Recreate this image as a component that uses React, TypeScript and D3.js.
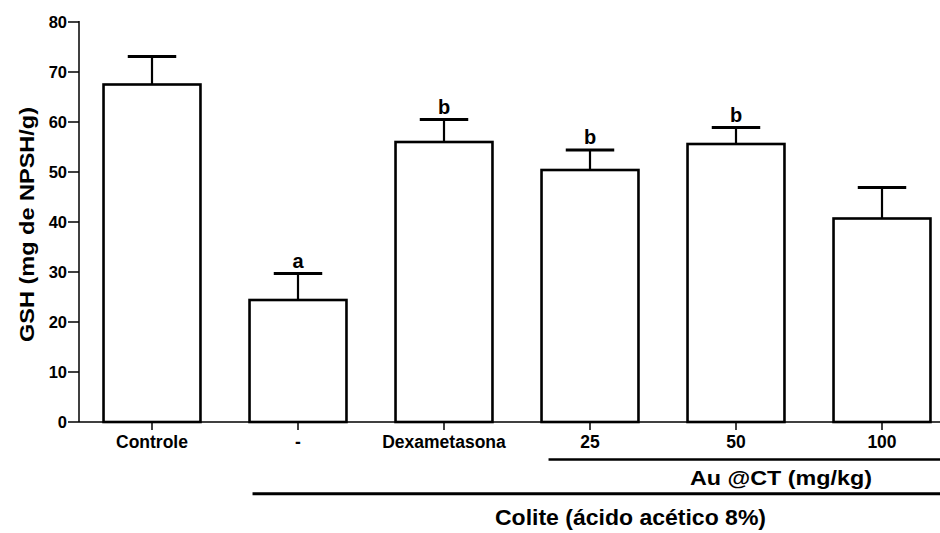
import React from "react";
import * as d3 from "d3";

const categories = ["Controle", "-", "Dexametasona", "25", "50", "100"];
const means = [67.5, 24.4, 56.0, 50.4, 55.6, 40.7];
const errors = [5.6, 5.3, 4.5, 4.0, 3.3, 6.2];
const letters = ["", "a", "b", "b", "b", ""];
const yTicks = [0, 10, 20, 30, 40, 50, 60, 70, 80];
const yLabel = "GSH (mg de NPSH/g)";
const groupAu = "Au @CT (mg/kg)";
const groupColite = "Colite (ácido acético 8%)";

const W = 940;
const H = 533;
const FONT = "'Liberation Sans', Arial, Helvetica, sans-serif";

export default function App() {
  const x0 = 79;
  const y0 = 422;
  const yTop = 22;
  const x = d3
    .scaleBand<string>()
    .domain(categories)
    .range([x0, 955])
    .paddingInner(0.336)
    .paddingOuter(0.168);
  const y = d3.scaleLinear().domain([0, 80]).range([y0, yTop]);
  const bw = x.bandwidth();

  return (
    <svg
      width={W}
      height={H}
      style={{ position: "absolute", left: 0, top: 0, background: "#fff" }}
      fontFamily={FONT}
      fontWeight="bold"
    >
      <rect x={0} y={0} width={W} height={H} fill="#fff" />
      {/* error bars */}
      {categories.map((c, i) => {
        const cx = (x(c) as number) + bw / 2;
        return (
          <g key={"e" + c}>
            <line x1={cx} x2={cx} y1={y(means[i])} y2={y(means[i] + errors[i])} stroke="#000" strokeWidth={2.2} />
            <line
              x1={cx - bw / 4}
              x2={cx + bw / 4}
              y1={y(means[i] + errors[i])}
              y2={y(means[i] + errors[i])}
              stroke="#000"
              strokeWidth={3}
            />
            {letters[i] && (
              <text x={cx} y={y(means[i] + errors[i]) - 6} textAnchor="middle" fontSize={20} fill="#000">
                {letters[i]}
              </text>
            )}
          </g>
        );
      })}
      {/* bars */}
      {categories.map((c, i) => (
        <rect
          key={"b" + c}
          x={x(c)}
          y={y(means[i])}
          width={bw}
          height={y0 - y(means[i])}
          fill="#fff"
          stroke="#000"
          strokeWidth={2.6}
        />
      ))}
      {/* y axis */}
      <line x1={x0} x2={x0} y1={yTop - 1} y2={y0} stroke="#000" strokeWidth={1.5} />
      {yTicks.map((t) => (
        <g key={"yt" + t}>
          <line x1={x0 - 11} x2={x0} y1={y(t)} y2={y(t)} stroke="#000" strokeWidth={1.5} />
          <text x={x0 - 12} y={y(t)} dy="0.35em" textAnchor="end" fontSize={16.5} fill="#000">
            {t}
          </text>
        </g>
      ))}
      {/* x axis */}
      <line x1={x0} x2={W} y1={y0} y2={y0} stroke="#000" strokeWidth={1.5} />
      {categories.map((c) => {
        const cx = (x(c) as number) + bw / 2;
        return (
          <g key={"xt" + c}>
            <line x1={cx} x2={cx} y1={y0} y2={y0 + 8} stroke="#000" strokeWidth={1.5} />
            <text x={cx} y={448} textAnchor="middle" fontSize={17.5} fill="#000">
              {c}
            </text>
          </g>
        );
      })}
      {/* y label */}
      <text
        transform={`translate(34, 224.5) rotate(-90)`}
        textAnchor="middle"
        fontSize={21}
        fill="#000"
        textLength={235}
        lengthAdjust="spacingAndGlyphs"
      >
        {yLabel}
      </text>
      {/* group lines */}
      <line x1={(x("25") as number) + 7} x2={W} y1={459.5} y2={459.5} stroke="#000" strokeWidth={2.4} />
      <text x={781} y={485} textAnchor="middle" fontSize={19.5} fill="#000" textLength={182} lengthAdjust="spacingAndGlyphs">
        {groupAu}
      </text>
      <line x1={(x("-") as number) + 3} x2={W} y1={493.7} y2={493.7} stroke="#000" strokeWidth={3} />
      <text x={630.5} y={525} textAnchor="middle" fontSize={22.5} fill="#000" textLength={271} lengthAdjust="spacingAndGlyphs">
        {groupColite}
      </text>
    </svg>
  );
}
